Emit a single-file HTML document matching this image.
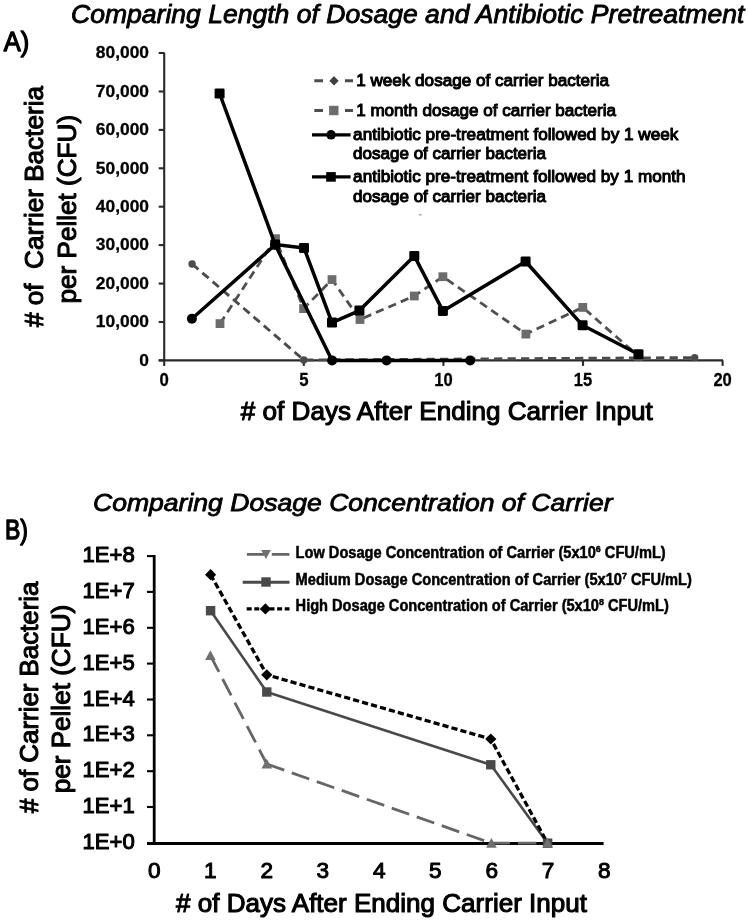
<!DOCTYPE html>
<html lang="en"><head><meta charset="utf-8"><title>Carrier bacteria persistence charts</title>
<style>
html,body{margin:0;padding:0;background:#fff;}
body{width:749px;height:920px;overflow:hidden;}
svg{display:block;font-family:"Liberation Sans", sans-serif;}
text{fill:#000;}
.t{font-style:italic;}
.b{font-weight:bold;}
.k{stroke:#000;stroke-width:0.9px;stroke-linejoin:round;}
.b{stroke:#000;stroke-width:0.3px;stroke-linejoin:round;}
.t.k{stroke-width:0.85px;}
.k.ax{stroke-width:1.1px;}
</style></head><body>
<svg width="749" height="920" viewBox="0 0 749 920">
<defs><filter id="soft" x="-5%" y="-5%" width="110%" height="110%"><feGaussianBlur stdDeviation="0.55"/></filter></defs>
<rect width="749" height="920" fill="#fff"/>
<g filter="url(#soft)">
<g id="chartA">
<text class="t k" x="71" y="23.3" font-size="25" textLength="673.3" lengthAdjust="spacingAndGlyphs">Comparing Length of Dosage and Antibiotic Pretreatment</text>
<text class="k" x="3.8" y="51.3" font-size="27.5" style="stroke-width:1.3px" textLength="25.5" lengthAdjust="spacingAndGlyphs">A)</text>
<g stroke="#2a2a2a" stroke-width="2.1" fill="none">
<path d="M164.2 52.4 V365.9"/>
<path d="M158.7 360.4 H723.0"/>
<path d="M158.7 360.4 H164.2"/>
<path d="M158.7 322.0 H164.2"/>
<path d="M158.7 283.6 H164.2"/>
<path d="M158.7 245.1 H164.2"/>
<path d="M158.7 206.7 H164.2"/>
<path d="M158.7 168.3 H164.2"/>
<path d="M158.7 129.9 H164.2"/>
<path d="M158.7 91.5 H164.2"/>
<path d="M158.7 53.0 H164.2"/>
<path d="M303.8 360.4 V365.9"/>
<path d="M443.4 360.4 V365.9"/>
<path d="M583.0 360.4 V365.9"/>
<path d="M722.6 360.4 V365.9"/>
</g>
<text class="b" x="149" y="365.6" font-size="17.4" text-anchor="end">0</text>
<text class="b" x="149" y="327.2" font-size="17.4" text-anchor="end">10,000</text>
<text class="b" x="149" y="288.8" font-size="17.4" text-anchor="end">20,000</text>
<text class="b" x="149" y="250.3" font-size="17.4" text-anchor="end">30,000</text>
<text class="b" x="149" y="211.9" font-size="17.4" text-anchor="end">40,000</text>
<text class="b" x="149" y="173.5" font-size="17.4" text-anchor="end">50,000</text>
<text class="b" x="149" y="135.1" font-size="17.4" text-anchor="end">60,000</text>
<text class="b" x="149" y="96.7" font-size="17.4" text-anchor="end">70,000</text>
<text class="b" x="149" y="58.2" font-size="17.4" text-anchor="end">80,000</text>
<text class="b" x="159.5" y="386.4" font-size="18.4" textLength="9.3" lengthAdjust="spacingAndGlyphs">0</text>
<text class="b" x="299.2" y="386.4" font-size="18.4" textLength="9.3" lengthAdjust="spacingAndGlyphs">5</text>
<text class="b" x="434.2" y="386.4" font-size="18.4" textLength="18.4" lengthAdjust="spacingAndGlyphs">10</text>
<text class="b" x="573.8" y="386.4" font-size="18.4" textLength="18.4" lengthAdjust="spacingAndGlyphs">15</text>
<text class="b" x="713.4" y="386.4" font-size="18.4" textLength="18.4" lengthAdjust="spacingAndGlyphs">20</text>
<text class="k ax" x="240.8" y="420.2" font-size="26" textLength="412" lengthAdjust="spacingAndGlyphs"># of Days After Ending Carrier Input</text>
<text class="k ax" transform="translate(43 327) rotate(-90)" font-size="26" textLength="241" lengthAdjust="spacingAndGlyphs" xml:space="preserve"># of  Carrier Bacteria</text>
<text class="k ax" transform="translate(75.6 303.4) rotate(-90)" font-size="26.3" textLength="188.5" lengthAdjust="spacingAndGlyphs">per Pellet (CFU)</text>
<polyline points="192.1,264.0 303.8,360.0 694.7,357.6" fill="none" stroke="#4c4c4c" stroke-width="2.9" stroke-dasharray="8.3 5.2"/>
<polyline points="220.0,323.6 275.5,238.7 303.6,308.6 332.0,279.6 360.0,319.5 414.3,296.0 442.9,276.7 525.9,334.1 582.8,307.4 638.5,356.2" fill="none" stroke="#505050" stroke-width="2.8" stroke-dasharray="8.3 5.2"/>
<rect x="215.6" y="319.2" width="8.8" height="8.8" fill="#6c6c6c"/>
<rect x="271.1" y="234.3" width="8.8" height="8.8" fill="#6c6c6c"/>
<rect x="299.2" y="304.2" width="8.8" height="8.8" fill="#6c6c6c"/>
<rect x="327.6" y="275.2" width="8.8" height="8.8" fill="#6c6c6c"/>
<rect x="355.6" y="315.1" width="8.8" height="8.8" fill="#6c6c6c"/>
<rect x="409.9" y="291.6" width="8.8" height="8.8" fill="#6c6c6c"/>
<rect x="438.5" y="272.3" width="8.8" height="8.8" fill="#6c6c6c"/>
<rect x="521.5" y="329.7" width="8.8" height="8.8" fill="#6c6c6c"/>
<rect x="578.4" y="303.0" width="8.8" height="8.8" fill="#6c6c6c"/>
<rect x="634.1" y="351.8" width="8.8" height="8.8" fill="#6c6c6c"/>
<polyline points="191.9,318.8 275.2,244.8 332.1,360.4 386.6,360.4 470.2,360.4" fill="none" stroke="#000" stroke-width="3.5" stroke-linejoin="round"/>
<polyline points="219.6,93.5 275.2,244.6 304.0,247.9 332.0,322.6 359.4,310.6 414.3,255.9 442.9,310.9 525.6,261.5 582.6,325.3 638.5,354.2" fill="none" stroke="#000" stroke-width="3.5" stroke-linejoin="round"/>
<circle cx="192.1" cy="264.0" r="3.7" fill="#4c4c4c"/>
<circle cx="303.8" cy="360.0" r="3.7" fill="#4c4c4c"/>
<circle cx="694.7" cy="357.6" r="3.7" fill="#4c4c4c"/>
<circle cx="191.9" cy="318.8" r="5" fill="#000"/>
<circle cx="275.2" cy="244.8" r="5" fill="#000"/>
<circle cx="332.1" cy="360.4" r="5" fill="#000"/>
<circle cx="386.6" cy="360.4" r="5" fill="#000"/>
<circle cx="470.2" cy="360.4" r="5" fill="#000"/>
<rect x="214.6" y="88.5" width="10" height="10" rx="1.3" fill="#000"/>
<rect x="270.2" y="239.6" width="10" height="10" rx="1.3" fill="#000"/>
<rect x="299.0" y="242.9" width="10" height="10" rx="1.3" fill="#000"/>
<rect x="327.0" y="317.6" width="10" height="10" rx="1.3" fill="#000"/>
<rect x="354.4" y="305.6" width="10" height="10" rx="1.3" fill="#000"/>
<rect x="409.3" y="250.9" width="10" height="10" rx="1.3" fill="#000"/>
<rect x="437.9" y="305.9" width="10" height="10" rx="1.3" fill="#000"/>
<rect x="520.6" y="256.5" width="10" height="10" rx="1.3" fill="#000"/>
<rect x="577.6" y="320.3" width="10" height="10" rx="1.3" fill="#000"/>
<rect x="633.5" y="349.2" width="10" height="10" rx="1.3" fill="#000"/>
<g id="legendA">
<path d="M314.3 80.8 H323 M345 80.8 H353" stroke="#4c4c4c" stroke-width="3"/>
<path d="M334 76.9 L337.9 80.8 L334 84.7 L330.1 80.8 Z" fill="#404040" stroke="#404040" stroke-width="1.2" stroke-linejoin="round"/>
<path d="M314.3 110.5 H323 M345 110.5 H353" stroke="#505050" stroke-width="3"/>
<rect x="329.1" y="105.8" width="9.4" height="9.4" fill="#6c6c6c"/>
<path d="M312 134.8 H350.6" stroke="#000" stroke-width="3.2"/>
<circle cx="331" cy="134.8" r="4.8" fill="#000"/>
<path d="M312 176.9 H350.6" stroke="#000" stroke-width="3.2"/>
<rect x="326.2" y="172.1" width="9.6" height="9.6" fill="#000"/>
<ellipse cx="420.2" cy="214.8" rx="1.8" ry="1" fill="#bbb"/>
<text class="k" x="356.2" y="86.0" font-size="17.3" style="stroke-width:1.05px" textLength="252.8" lengthAdjust="spacingAndGlyphs">1 week dosage of carrier bacteria</text>
<text class="k" x="356.2" y="116.1" font-size="17.3" style="stroke-width:1.05px" textLength="259.8" lengthAdjust="spacingAndGlyphs">1 month dosage of carrier bacteria</text>
<text class="k" x="353.1" y="139.9" font-size="17.3" style="stroke-width:1.05px" textLength="325.3" lengthAdjust="spacingAndGlyphs">antibiotic pre-treatment followed by 1 week</text>
<text class="k" x="353.1" y="159.1" font-size="17.3" style="stroke-width:1.05px" textLength="192.9" lengthAdjust="spacingAndGlyphs">dosage of carrier bacteria</text>
<text class="k" x="353.1" y="181.8" font-size="17.3" style="stroke-width:1.05px" textLength="332.5" lengthAdjust="spacingAndGlyphs">antibiotic pre-treatment followed by 1 month</text>
<text class="k" x="353.1" y="201.6" font-size="17.3" style="stroke-width:1.05px" textLength="192.9" lengthAdjust="spacingAndGlyphs">dosage of carrier bacteria</text>
</g>
</g>
<g id="chartB">
<text class="t k" x="93" y="511.4" font-size="24.6" textLength="519.5" lengthAdjust="spacingAndGlyphs">Comparing Dosage Concentration of Carrier</text>
<text class="k" x="5" y="539.3" font-size="27" style="stroke-width:1.4px" textLength="23" lengthAdjust="spacingAndGlyphs">B)</text>
<g stroke="#000" fill="none">
<path d="M154.2 554.9 V844.7" stroke-width="2.8"/>
<path d="M147.0 843.4 H603.6" stroke-width="3"/>
<path d="M147.0 807.0 H154.2" stroke-width="2.1"/>
<path d="M147.0 771.2 H154.2" stroke-width="2.1"/>
<path d="M147.0 735.3 H154.2" stroke-width="2.1"/>
<path d="M147.0 699.5 H154.2" stroke-width="2.1"/>
<path d="M147.0 663.6 H154.2" stroke-width="2.1"/>
<path d="M147.0 627.8 H154.2" stroke-width="2.1"/>
<path d="M147.0 591.9 H154.2" stroke-width="2.1"/>
<path d="M147.0 556.1 H154.2" stroke-width="2.1"/>
</g>
<text class="k" x="82.6" y="848.9" font-size="22.8" style="stroke-width:1.1px" textLength="52.2" lengthAdjust="spacingAndGlyphs">1E+0</text>
<text class="k" x="82.6" y="813.0" font-size="22.8" style="stroke-width:1.1px" textLength="52.2" lengthAdjust="spacingAndGlyphs">1E+1</text>
<text class="k" x="82.6" y="777.2" font-size="22.8" style="stroke-width:1.1px" textLength="52.2" lengthAdjust="spacingAndGlyphs">1E+2</text>
<text class="k" x="82.6" y="741.3" font-size="22.8" style="stroke-width:1.1px" textLength="52.2" lengthAdjust="spacingAndGlyphs">1E+3</text>
<text class="k" x="82.6" y="705.5" font-size="22.8" style="stroke-width:1.1px" textLength="52.2" lengthAdjust="spacingAndGlyphs">1E+4</text>
<text class="k" x="82.6" y="669.6" font-size="22.8" style="stroke-width:1.1px" textLength="52.2" lengthAdjust="spacingAndGlyphs">1E+5</text>
<text class="k" x="82.6" y="633.8" font-size="22.8" style="stroke-width:1.1px" textLength="52.2" lengthAdjust="spacingAndGlyphs">1E+6</text>
<text class="k" x="82.6" y="597.9" font-size="22.8" style="stroke-width:1.1px" textLength="52.2" lengthAdjust="spacingAndGlyphs">1E+7</text>
<text class="k" x="82.6" y="562.1" font-size="22.8" style="stroke-width:1.1px" textLength="52.2" lengthAdjust="spacingAndGlyphs">1E+8</text>
<text class="k" x="154.2" y="877.6" font-size="22.6" style="stroke-width:1px" text-anchor="middle">0</text>
<text class="k" x="210.4" y="877.6" font-size="22.6" style="stroke-width:1px" text-anchor="middle">1</text>
<text class="k" x="266.7" y="877.6" font-size="22.6" style="stroke-width:1px" text-anchor="middle">2</text>
<text class="k" x="322.9" y="877.6" font-size="22.6" style="stroke-width:1px" text-anchor="middle">3</text>
<text class="k" x="379.2" y="877.6" font-size="22.6" style="stroke-width:1px" text-anchor="middle">4</text>
<text class="k" x="435.4" y="877.6" font-size="22.6" style="stroke-width:1px" text-anchor="middle">5</text>
<text class="k" x="491.7" y="877.6" font-size="22.6" style="stroke-width:1px" text-anchor="middle">6</text>
<text class="k" x="548.0" y="877.6" font-size="22.6" style="stroke-width:1px" text-anchor="middle">7</text>
<text class="k" x="604.2" y="877.6" font-size="22.6" style="stroke-width:1px" text-anchor="middle">8</text>
<text class="k ax" x="176" y="911.7" font-size="26" textLength="411" lengthAdjust="spacingAndGlyphs"># of Days After Ending Carrier Input</text>
<text class="k ax" transform="translate(37.6 813) rotate(-90)" font-size="26" textLength="231.5" lengthAdjust="spacingAndGlyphs"># of Carrier Bacteria</text>
<text class="k ax" transform="translate(69.7 793.3) rotate(-90)" font-size="26" textLength="188.5" lengthAdjust="spacingAndGlyphs">per Pellet (CFU)</text>
<path d="M210.4 655.5 L266.8 764.0" fill="none" stroke="#666" stroke-width="2.8" stroke-dasharray="18.5 8"/>
<path d="M266.8 764.0 L491.4 843.2" fill="none" stroke="#666" stroke-width="2.8" stroke-dasharray="18.5 8"/>
<path d="M491.4 843.2 L547.6 843.2" fill="none" stroke="#666" stroke-width="2.8" stroke-dasharray="18.5 8"/>
<polyline points="210.6,610.7 266.8,692.0 490.8,764.8 547.6,843.2" fill="none" stroke="#4a4a4a" stroke-width="2.6" stroke-linejoin="round"/>
<polyline points="210.6,574.7 266.8,674.8 490.8,739.0 547.6,843.2" fill="none" stroke="#000" stroke-width="3.3" stroke-dasharray="6.2 3.1"/>
<rect x="205.9" y="606.0" width="9.4" height="9.4" fill="#4a4a4a"/>
<rect x="262.1" y="687.3" width="9.4" height="9.4" fill="#4a4a4a"/>
<rect x="486.1" y="760.1" width="9.4" height="9.4" fill="#4a4a4a"/>
<rect x="542.9" y="838.5" width="9.4" height="9.4" fill="#4a4a4a"/>
<path d="M210.4 650.2 L215.7 660.0 L205.1 660.0 Z" fill="#707070"/>
<path d="M266.8 758.7 L272.1 768.5 L261.5 768.5 Z" fill="#707070"/>
<path d="M491.4 837.9 L496.7 847.7 L486.1 847.7 Z" fill="#707070"/>
<path d="M547.6 837.9 L552.9 847.7 L542.3 847.7 Z" fill="#707070"/>
<path d="M210.6 569.1 L216.2 574.7 L210.6 580.3 L205.0 574.7 Z" fill="#000"/>
<path d="M266.8 669.2 L272.4 674.8 L266.8 680.4 L261.2 674.8 Z" fill="#000"/>
<path d="M490.8 733.4 L496.4 739.0 L490.8 744.6 L485.2 739.0 Z" fill="#000"/>
<g id="legendB">
<path d="M246.9 554.4 H264 M271.8 554.4 H289.4" stroke="#666" stroke-width="2.8"/>
<path d="M266.0 559.0 L270.8 550.1 L261.2 550.1 Z" fill="#707070"/>
<path d="M242.7 582.2 H289.5" stroke="#4a4a4a" stroke-width="3"/>
<rect x="261.3" y="577.3" width="9.4" height="9.4" fill="#4a4a4a"/>
<path d="M246.7 608.9 H289.5" stroke="#000" stroke-width="3.3" stroke-dasharray="5 2.6"/>
<path d="M265.4 603.3 L271.0 608.9 L265.4 614.5 L259.8 608.9 Z" fill="#000"/>
<text class="b" x="295.6" y="557.8" font-size="15.6" style="stroke-width:0.5px" textLength="370.1" lengthAdjust="spacingAndGlyphs">Low Dosage Concentration of Carrier (5x10<tspan font-size="9.5" dy="-6">6</tspan><tspan dy="6"> CFU/mL)</tspan></text>
<text class="b" x="295.6" y="584.7" font-size="15.6" style="stroke-width:0.5px" textLength="396.2" lengthAdjust="spacingAndGlyphs">Medium Dosage Concentration of Carrier (5x10<tspan font-size="9.5" dy="-6">7</tspan><tspan dy="6"> CFU/mL)</tspan></text>
<text class="b" x="295.6" y="611.1" font-size="15.6" style="stroke-width:0.5px" textLength="373.2" lengthAdjust="spacingAndGlyphs">High Dosage Concentration of Carrier (5x10<tspan font-size="9.5" dy="-6">8</tspan><tspan dy="6"> CFU/mL)</tspan></text>
</g>
</g>
</g>
</svg></body></html>
